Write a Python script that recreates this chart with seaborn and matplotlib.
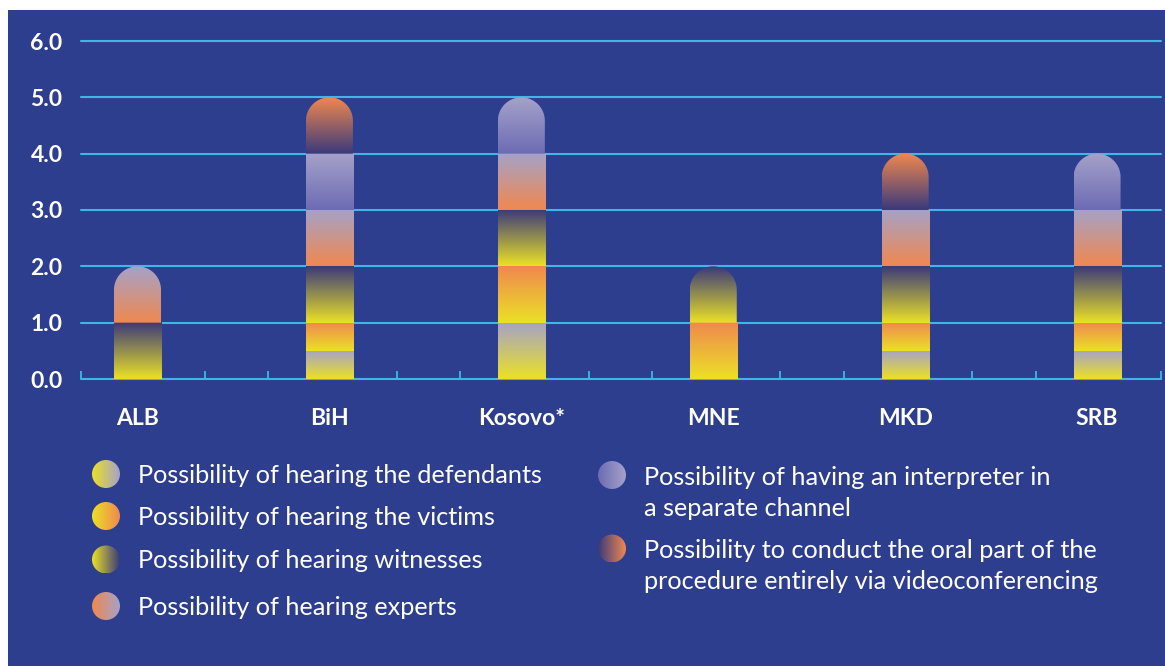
import numpy as np
import pandas as pd
import matplotlib
matplotlib.use("Agg")
import matplotlib.pyplot as plt
import seaborn as sns
from matplotlib.path import Path
from matplotlib.patches import PathPatch, Rectangle, Circle
from matplotlib.colors import to_rgb

# ---------------- data ----------------
countries = ["ALB", "BiH", "Kosovo*", "MNE", "MKD", "SRB"]
defendants = [0.0, 0.5, 1.0, 0.0, 0.5, 0.5]
victims = [0.0, 0.5, 1.0, 1.0, 0.5, 0.5]
witnesses = [1.0, 1.0, 1.0, 1.0, 1.0, 1.0]
experts = [1.0, 1.0, 1.0, 0.0, 1.0, 1.0]
interpreter = [0.0, 1.0, 1.0, 0.0, 0.0, 1.0]
videoconf = [0.0, 1.0, 0.0, 0.0, 1.0, 0.0]

series_keys = ["defendants", "victims", "witnesses", "experts", "interpreter", "videoconf"]
series_labels = [
    "Possibility of hearing the defendants",
    "Possibility of hearing the victims",
    "Possibility of hearing witnesses",
    "Possibility of hearing experts",
    "Possibility of having an interpreter in\na separate channel",
    "Possibility to conduct the oral part of the\nprocedure entirely via videoconferencing",
]
yticks = [0, 1, 2, 3, 4, 5, 6]
ytick_labels = ["0.0", "1.0", "2.0", "3.0", "4.0", "5.0", "6.0"]

# gradient colours (bottom -> top of a bar segment, left -> right in legend)
YELLOW = "#ebe126"
ORANGE = "#f0884f"
LAVENDER = "#a5a2c9"
NAVYDARK = "#3a397b"
grad_colors = [
    (YELLOW, LAVENDER),
    (YELLOW, ORANGE),
    (YELLOW, NAVYDARK),
    (ORANGE, LAVENDER),
    ("#6c6bb4", LAVENDER),
    (NAVYDARK, ORANGE),
]

NAVY = "#2d3e8e"
CYAN = "#41b6e6"
W, H = 1165, 666

df = pd.DataFrame({"country": countries, "defendants": defendants, "victims": victims,
                   "witnesses": witnesses, "experts": experts,
                   "interpreter": interpreter, "videoconf": videoconf})

sns.set_theme(style="white")
plt.rcParams["font.family"] = ["Lato", "DejaVu Sans"]

fig = plt.figure(figsize=(W / 100, H / 100), dpi=100, facecolor="white")
fig.patches.append(Rectangle((8 / W, 0), 1 - 8 / W, 1 - 10 / H, transform=fig.transFigure,
                             facecolor=NAVY, edgecolor="none", zorder=-10))

ax = fig.add_axes([80.7 / W, 1 - 379 / H, (1160.6 - 80.7) / W, (379 - 41) / H])
ax.set_facecolor("none")

bottom = np.zeros(len(countries))
bar_sets = []
for key, cols in zip(series_keys, grad_colors):
    sns.barplot(data=df, x="country", y=key, bottom=bottom.copy(), width=0.245,
                color="white", errorbar=None, ax=ax, zorder=2)
    cont = ax.containers[-1]
    bar_sets.append((cont, cols))
    bottom = bottom + df[key].to_numpy()
totals = bottom

ax.set_xlim(-0.296, 5.331)
ax.set_ylim(0, 6)

# pixel scale for round caps
p0 = ax.transData.transform((0, 0))
p1 = ax.transData.transform((1, 1))
ppx, ppy = p1[0] - p0[0], p1[1] - p0[1]

t = np.linspace(0, 1, 256)[:, None]
for cont, (cb, ct) in bar_sets:
    c0, c1 = np.array(to_rgb(cb)), np.array(to_rgb(ct))
    img = (c0 + (c1 - c0) * t)[:, None, :]
    for i, p in enumerate(cont.patches):
        p.set_facecolor("none")
        p.set_edgecolor("none")
        x0, w, y0, h = p.get_x(), p.get_width(), p.get_y(), p.get_height()
        if h <= 0:
            continue
        im = ax.imshow(img, extent=(x0, x0 + w, y0, y0 + h), origin="lower",
                       aspect="auto", interpolation="bilinear", zorder=2)
        ytop = y0 + h
        if abs(ytop - totals[i]) < 1e-9:
            rx = w / 2
            ry = rx * ppx / ppy
            xc = x0 + rx
            th = np.linspace(0, np.pi, 80)
            verts = [(x0, y0), (x0 + w, y0), (x0 + w, ytop - ry)]
            verts += list(zip(xc + rx * np.cos(th), ytop - ry + ry * np.sin(th)))
            verts += [(x0, y0)]
            codes = [Path.MOVETO] + [Path.LINETO] * (len(verts) - 2) + [Path.CLOSEPOLY]
            clip = PathPatch(Path(verts, codes), transform=ax.transData)
            im.set_clip_path(clip)

ax.set_xlim(-0.296, 5.331)
ax.set_ylim(0, 6)
ax.set_axisbelow(True)

# grid
ax.yaxis.grid(True, color=CYAN, linewidth=1.5)
ax.xaxis.grid(False)
for gl in ax.get_ygridlines():
    gl.set_clip_on(False)
for s in ax.spines.values():
    s.set_visible(False)

ax.set_yticks(yticks, labels=ytick_labels)
ax.tick_params(axis="y", length=0, pad=13, labelsize=16.5, labelcolor="white")
ax.set_xticks(range(len(countries)), labels=countries)
ax.tick_params(axis="x", which="major", length=0, pad=21, labelsize=16.5, labelcolor="white")
minor = [-0.296] + [i + d for i in range(5) for d in (0.35, 0.68)] + [5.331]
ax.set_xticks(minor, minor=True)
ax.tick_params(axis="x", which="minor", bottom=True, direction="in", length=6,
               width=1.3, color=CYAN)
for lbl in ax.get_yticklabels() + ax.get_xticklabels():
    lbl.set_fontweight("bold")
ax.set_xlabel("")
ax.set_ylabel("")

# legend with gradient circles
lax = fig.add_axes([0, 0, 1, 1])
lax.set_xlim(0, W)
lax.set_ylim(H, 0)
lax.axis("off")
lax.set_facecolor("none")
pos = [(106, 474, 138), (106, 516, 138), (106, 559.5, 138), (106, 606, 138),
       (612, 475, 644), (612, 548.5, 644)]
tt = np.linspace(0, 1, 256)[:, None]
r = 14
LINE_PX = 31.5
for (cx, cy, tx), lab, (cb, ct) in zip(pos, series_labels, grad_colors):
    c0, c1 = np.array(to_rgb(cb)), np.array(to_rgb(ct))
    img = (c0 + (c1 - c0) * tt)[None, :, :]
    im = lax.imshow(img, extent=(cx - r, cx + r, cy + r, cy - r), aspect="auto",
                    interpolation="bilinear")
    im.set_clip_path(Circle((cx, cy), r, transform=lax.transData))
    nl = lab.count("\n")
    lax.text(tx, cy + 9 + nl * LINE_PX, lab, color="white", fontsize=18.2, va="baseline",
             ha="left", linespacing=1.41)
lax.set_xlim(0, W)
lax.set_ylim(H, 0)

fig.savefig("out.png", dpi=100, facecolor="white")
